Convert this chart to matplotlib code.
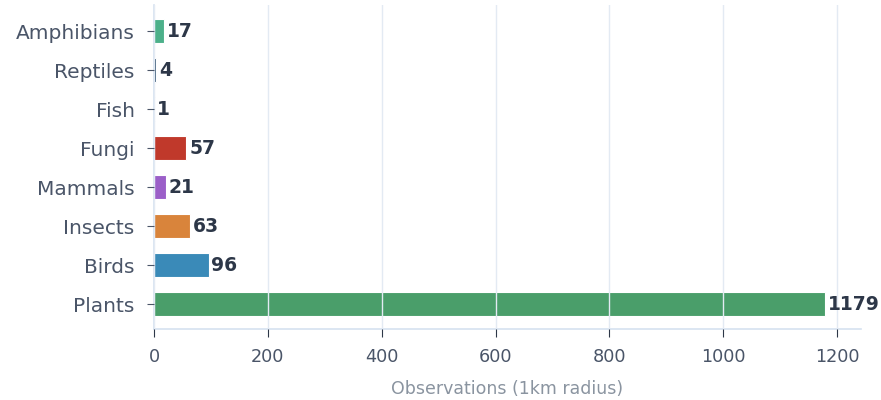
import numpy as np
import matplotlib.pyplot as plt

categories = ["Plants", "Birds", "Insects", "Mammals", "Fungi", "Fish", "Reptiles", "Amphibians"]
counts = [1179, 96, 63, 21, 57, 1, 4, 17]
colors = ["#4a9e6a", "#3a8ab8", "#d9843b", "#9b5fc8", "#c0392b", "#3a8ab8", "#2f4f6f", "#4cb08a"]
xticks = [0, 200, 400, 600, 800, 1000, 1200]

plt.rcParams['font.family'] = ['DejaVu Sans']

fig = plt.figure(figsize=(8.81, 4.0), dpi=100)
ax = fig.add_axes([154 / 881, 1 - 329 / 400, (861 - 154) / 881, 324 / 400])

y = np.arange(len(categories))
ax.barh(y, counts, height=0.6, color=colors, edgecolor="white", linewidth=0.8, zorder=2)

ax.set_xlim(0, 1242)
ax.set_ylim(-0.64, len(categories) - 1 + 0.667)
ax.set_yticks(y)
ax.set_yticklabels(categories)
ax.set_xticks(xticks)

ax.grid(axis="x", color="#e3eaf3", linewidth=1, zorder=3)
ax.set_axisbelow(False)

for s in ["top", "right"]:
    ax.spines[s].set_visible(False)
ax.spines["left"].set_color("#d6e2f0")
ax.spines["bottom"].set_color("#d6e2f0")
ax.spines["left"].set_linewidth(1.2)
ax.spines["bottom"].set_linewidth(1.2)

ax.tick_params(axis="y", length=5, color="#4a5568", labelsize=14.5, labelcolor="#4a5568", pad=9)
ax.tick_params(axis="x", length=6, color="#2d3748", labelsize=12.7, labelcolor="#4a5568", pad=8)

for yi, v in zip(y, counts):
    ax.text(v + 5, yi, str(v), va="center", ha="left", fontsize=13.5,
            fontweight="bold", color="#2d3748", zorder=4)

ax.set_xlabel("Observations (1km radius)", fontsize=12.5, color="#8a94a0", labelpad=10)

fig.savefig("out.png", dpi=100)
